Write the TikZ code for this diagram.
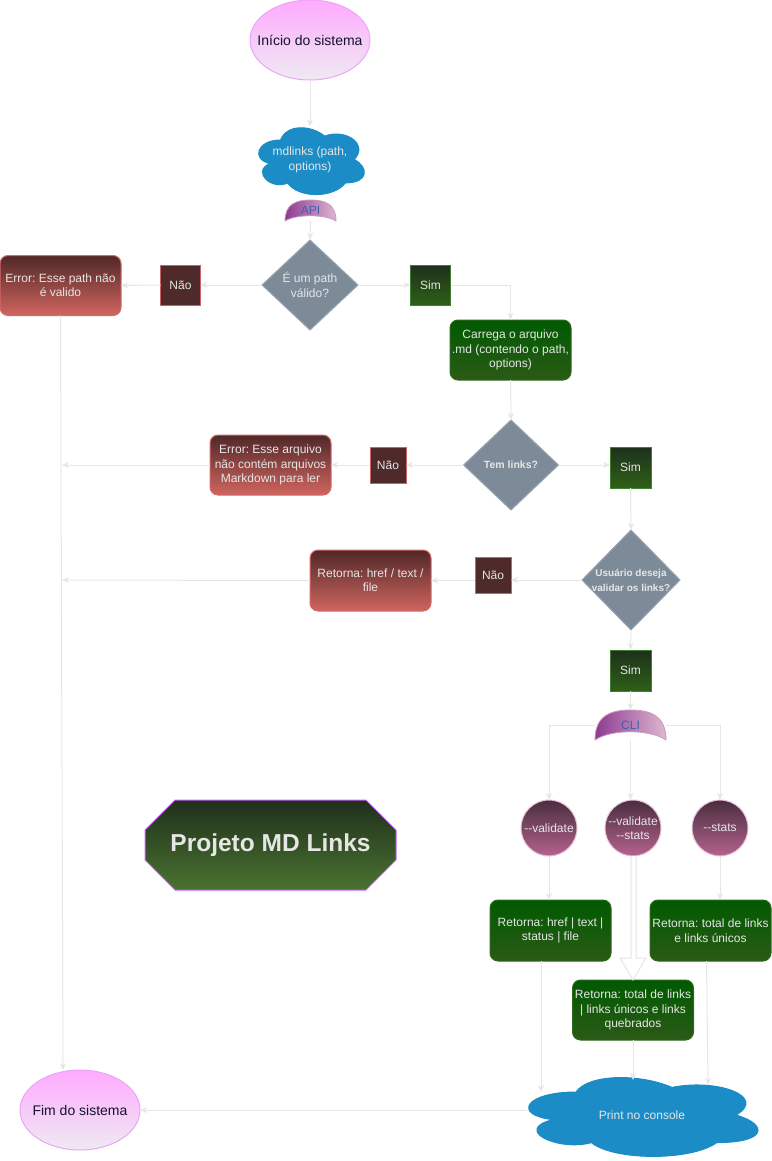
\documentclass[tikz,border=0pt]{standalone}
\usepackage{fontspec}
\setmainfont{Liberation Sans}
\frenchspacing
\usetikzlibrary{shapes.geometric,arrows.meta,calc}
\definecolor{lineg}{HTML}{E6E6E6}
\definecolor{txt}{HTML}{E6E6E6}
\definecolor{darktxt}{HTML}{14142A}
\definecolor{pinktop}{HTML}{FFAAFF}
\definecolor{pinkbot}{HTML}{EEEAF2}
\definecolor{pinkline}{HTML}{E9A6F6}
\definecolor{cloudblue}{HTML}{1C8CC6}
\definecolor{apil}{HTML}{8E3A91}
\definecolor{apir}{HTML}{DDB8D0}
\definecolor{apiline}{HTML}{C89AC0}
\definecolor{apitxt}{HTML}{3F5FB0}
\definecolor{diafill}{HTML}{7D8B99}
\definecolor{dialine}{HTML}{9AA6B2}
\definecolor{naofill}{HTML}{4E2A2A}
\definecolor{naoline}{HTML}{C86464}
\definecolor{redtop}{HTML}{502828}
\definecolor{redbot}{HTML}{D0655F}
\definecolor{redline}{HTML}{D46A6A}
\definecolor{simtop}{HTML}{1E301E}
\definecolor{simbot}{HTML}{2E6016}
\definecolor{simline}{HTML}{3F7F2F}
\definecolor{grtop}{HTML}{005A00}
\definecolor{grbot}{HTML}{2B5A17}
\definecolor{grline}{HTML}{2F6A1F}
\definecolor{cirtop}{HTML}{4A2E3E}
\definecolor{cirbot}{HTML}{B4628E}
\definecolor{cirline}{HTML}{E6C3D8}
\definecolor{octtop}{HTML}{1F301C}
\definecolor{octbot}{HTML}{4B7230}
\definecolor{octline}{HTML}{CC66FF}
\newcommand{\mycloud}[5]{%
\path[#5, shift={(#1,#2)}, xscale=#3, yscale=#4] (0.25,0.25) .. controls (0.05,0.25) and (0,0.5) .. (0.16,0.55) .. controls (0,0.66) and (0.18,0.9) .. (0.31,0.8) .. controls (0.4,1) and (0.7,1) .. (0.8,0.8) .. controls (1,0.8) and (1,0.6) .. (0.875,0.5) .. controls (1,0.3) and (0.8,0.1) .. (0.625,0.2) .. controls (0.5,0.05) and (0.3,0.05) .. (0.25,0.25) -- cycle;}
\tikzset{
 base/.style={font=\fontsize{12}{14.4}\selectfont, text=txt, align=center, inner sep=0pt, outer sep=0pt},
 lbl/.style={font=\fontsize{12}{14.4}\selectfont, text=txt, align=center, inner sep=0pt},
 conn/.style={draw=lineg, line width=1pt, -{Stealth[length=7pt,width=6pt,inset=2pt]}},
 redbox/.style={base, rounded corners=8pt, minimum width=121pt, minimum height=60pt, top color=redtop, bottom color=redbot, draw=redline, line width=1pt},
 naobox/.style={base, minimum width=36pt, minimum height=36pt, fill=naofill, draw=naoline, line width=1pt},
 simbox/.style={base, minimum width=40pt, minimum height=40pt, top color=simtop, bottom color=simbot, draw=simline, line width=1pt},
 greenbox/.style={base, rounded corners=8pt, minimum width=121pt, minimum height=60pt, top color=grtop, bottom color=grbot, draw=grline, line width=1pt},
 dia/.style={base, diamond, fill=diafill, draw=dialine, line width=1pt},
 optcircle/.style={base, circle, minimum size=56pt, top color=cirtop, bottom color=cirbot, draw=cirline, line width=1pt},
 endpoint/.style={base, ellipse, minimum width=120pt, minimum height=80pt, top color=pinktop, bottom color=pinkbot, draw=pinkline, line width=1pt},
 dome/.style={left color=apil, right color=apir, draw=apiline, line width=0.8pt},
}
\begin{document}
\begin{tikzpicture}[x=1pt,y=-1pt]
\useasboundingbox (0,0) rectangle (771,1161);

% start
\node[endpoint, label={[lbl, text=darktxt, font=\fontsize{14}{16}\selectfont]center:Início do sistema}] (start) at (310,40) {};

% mdlinks cloud
\mycloud{251}{120.5}{118}{78}{fill=cloudblue, draw=cloudblue, line width=1pt}
\node[base, minimum width=107pt, minimum height=67pt] (mdl) at (310,160) {mdlinks (path,\\options)};

% API shape
\path[dome] (285,221) .. controls (285,204) and (296,200) .. (310.5,200) .. controls (325,200) and (336,204) .. (336,221) .. controls (325,214) and (296,214) .. (285,221) -- cycle;
\node[base, text=apitxt, minimum width=50pt, minimum height=21pt] (api) at (310.5,210.5) {API};

% decision 1
\node[dia, minimum width=96pt, minimum height=90pt, label={[lbl]center:{É um path\\válido?}}] (d1) at (310,285) {};
\node[naobox, minimum width=40pt, minimum height=40pt] (nao1) at (180.5,285) {Não};
\node[redbox] (err1) at (60.5,285.5) {Error: Esse path não\\é valido};
\node[simbox] (sim1) at (430.5,285) {Sim};
\node[greenbox] (carrega) at (510.5,350) {Carrega o arquivo\\.md (contendo o path,\\options)};

% decision 2
\node[dia, minimum width=95pt, minimum height=90pt, label={[lbl, font=\bfseries\fontsize{10.5}{12}\selectfont]center:Tem links?}] (d2) at (511,465) {};
\node[naobox] (nao2) at (388,465) {Não};
\node[redbox] (err2) at (270.5,465) {Error: Esse arquivo\\não contém arquivos\\Markdown para ler};
\node[simbox, minimum width=41pt, minimum height=41pt] (sim2) at (630.5,467.5) {Sim};

% decision 3
\node[dia, minimum width=98pt, minimum height=100pt, label={[lbl, font=\bfseries\fontsize{10}{15}\selectfont]center:{Usuário deseja\\validar os links?}}] (d3) at (631,580) {};
\node[naobox] (nao3) at (493,575) {Não};
\node[redbox, minimum height=61pt] (ret1) at (370.5,580.5) {Retorna: href / text /\\file};
\node[simbox, minimum width=41pt, minimum height=41pt] (sim3) at (630.5,670.5) {Sim};

% CLI shape
\path[dome] (595,740) .. controls (595,716) and (610,710) .. (630.5,710) .. controls (651,710) and (666,716) .. (666,740) .. controls (650,729) and (611,729) .. (595,740) -- cycle;
\node[base, text=apitxt, minimum width=71pt, minimum height=30pt] (cli) at (630.5,725) {CLI};

% option circles
\node[optcircle, label={[lbl]center:{-{}-validate}}] (cv) at (549,828) {};
\node[optcircle, label={[lbl]center:{-{}-validate\\-{}-stats}}] (cvs) at (633,828) {};
\node[optcircle, label={[lbl]center:{-{}-stats}}] (cs) at (720,828) {};

% result boxes
\node[greenbox, minimum height=61pt] (rh) at (550.5,930.5) {Retorna: href | text |\\status | file};
\node[greenbox, minimum height=61pt] (rt) at (710.5,930.5) {Retorna: total de links\\e links únicos};
\node[greenbox] (rtl) at (633,1010) {Retorna: total de links\\| links únicos e links\\quebrados};

% print cloud
\mycloud{512}{1069}{256}{92}{fill=cloudblue, draw=cloudblue, line width=1pt}
\node[base, minimum width=200pt, minimum height=60pt] (print) at (642,1115) {Print no console};

% end
\node[endpoint, label={[lbl, text=darktxt, font=\fontsize{14}{16}\selectfont]center:Fim do sistema}] (fim) at (80,1110) {};

% title octagon
\path[top color=octtop, bottom color=octbot, draw=octline, line width=1pt] (145,830) -- (175,800) -- (366,800) -- (396,830) -- (396,860) -- (366,890) -- (175,890) -- (145,860) -- cycle;
\node[base, font=\bfseries\fontsize{24.5}{28}\selectfont, minimum width=250pt, minimum height=90pt] (proj) at (270.5,845) {Projeto MD Links};

% coordinates
\coordinate (fimtop) at (63,1070);
\coordinate (left2) at (62,465);
\coordinate (left3) at (62,580);
\coordinate (pc1) at (541,1092);
\coordinate (pc2) at (633,1080);
\coordinate (pc3) at (708,1085);
\coordinate (pw) at (527,1110);

% connectors
\draw[conn] (start.south) -- (mdl.north);
\draw[conn] (api.south) -- (d1.north);
\draw[conn] (d1.west) -- (nao1.east);
\draw[conn] (nao1.west) -- (err1.east);
\draw[conn] (err1.south) -- (fimtop);
\draw[conn] (d1.east) -- (sim1.west);
\draw[conn] (sim1.east) -| (carrega.north);
\draw[conn] (carrega.south) -- (d2.north);
\draw[conn] (d2.west) -- (nao2.east);
\draw[conn] (nao2.west) -- (err2.east);
\draw[conn] (err2.west) -- (left2);
\draw[conn] (d2.east) -- (d2.east -| sim2.west);
\draw[conn] (sim2.south) -- (d3.north);
\draw[conn] (d3.west) -- (d3.west -| nao3.east);
\draw[conn] (nao3.west |- ret1.east) -- (ret1.east);
\draw[conn] (ret1.west) -- (left3);
\draw[conn] (d3.south) -- (sim3.north);
\draw[conn] (sim3.south) -- (cli.north);
\draw[conn] (cli.west) -| (cv.north);
\draw[conn] (cli.east) -| (cs.north);
\draw[conn] (cli.south) -- (cli.south |- cvs.north);
\draw[conn] (cv.south) -- (cv.south |- rh.north);
\draw[conn] (cs.south) -- (cs.south |- rt.north);
% hollow arrow
\path[draw=lineg, fill=white, line width=1pt] ([xshift=-2pt]cvs.south) -- ([xshift=-2pt]cvs.south |- 0,958) -- ([xshift=-13pt]cvs.south |- 0,958) -- (rtl.north) -- ([xshift=13pt]cvs.south |- 0,958) -- ([xshift=3pt]cvs.south |- 0,958) -- ([xshift=3pt]cvs.south);
\draw[conn] (rh.south -| pc1) -- (pc1);
\draw[conn] (rtl.south) -- (pc2);
\draw[conn] ([xshift=-4pt]rt.south) -- (pc3);
\draw[conn] (pw) -- (fim.east);
\end{tikzpicture}
\end{document}
